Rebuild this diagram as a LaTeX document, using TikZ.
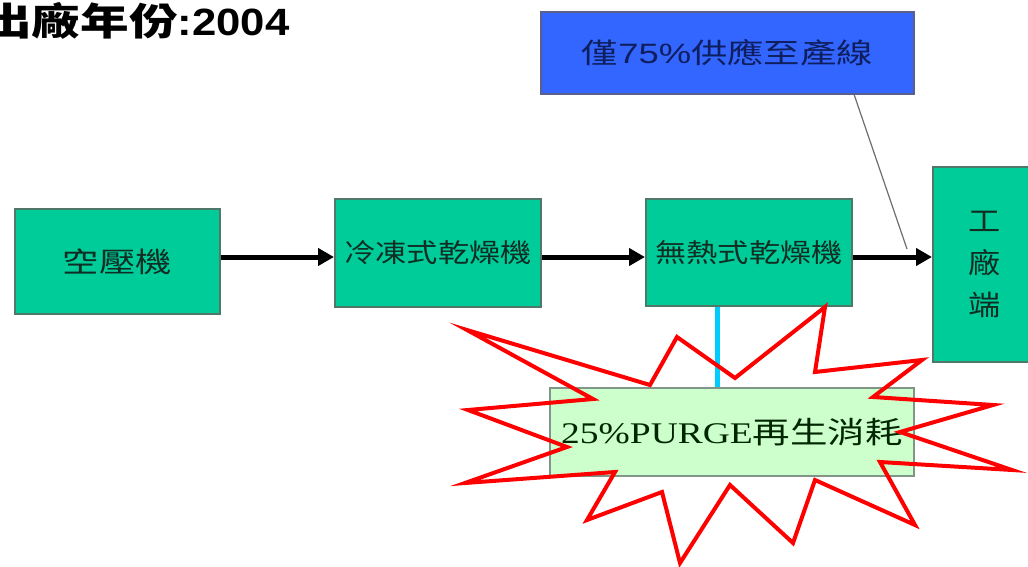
\documentclass[tikz,border=0pt]{standalone}
\usepackage{fontspec}
\setmainfont{Liberation Serif}
\newfontfamily\cjk{Noto Sans CJK TC}
\newfontfamily\lsans{Liberation Sans}
\usetikzlibrary{arrows.meta,calc}

\definecolor{boxgreen}{RGB}{0,204,153}
\definecolor{boxedge}{RGB}{80,120,105}
\definecolor{bluefill}{RGB}{51,102,255}
\definecolor{blueedge}{RGB}{90,95,140}
\definecolor{purgefill}{RGB}{204,255,204}
\definecolor{purgeedge}{RGB}{130,150,135}
\definecolor{txtgreen}{RGB}{15,45,35}
\definecolor{txtblue}{RGB}{15,30,95}
\definecolor{cyanline}{RGB}{0,204,255}
\definecolor{starred}{RGB}{255,0,0}
\definecolor{thingray}{RGB}{110,110,110}

\begin{document}
\begin{tikzpicture}[x=1pt,y=-1pt,
  gbox/.style={draw=boxedge,line width=2pt,fill=boxgreen,inner sep=0pt,anchor=north west,text=txtgreen},
  bbox/.style={draw=blueedge,line width=2pt,fill=bluefill,inner sep=0pt,anchor=north west,text=txtblue},
  pbox/.style={draw=purgeedge,line width=2pt,fill=purgefill,inner sep=0pt,anchor=north west,text=black!85!green},
  flow/.style={line width=5pt,-{Triangle[length=16pt,width=17pt]}},
  pointer/.style={draw=thingray,line width=1.2pt},
  purgeline/.style={draw=cyanline,line width=5pt},
  starline/.style={draw=starred,line width=4pt,line join=miter,miter limit=10}]

\useasboundingbox (0,0) rectangle (1028,567);
\clip (0,0) rectangle (1028,567);
\fill[white] (0,0) rectangle (1028,567);

% title
\node[anchor=base west,inner sep=0pt,font=\fontsize{38}{40}\selectfont] (title) at (-17,36)
  {\scalebox{1.28}[1]{\cjk\bfseries 出廠年份}\scalebox{1.15}[1]{\lsans\bfseries :2004}};

% boxes
\node[gbox,minimum width=205pt,minimum height=105pt,font=\cjk\fontsize{28}{30}\selectfont] (a) at (14,208)
  {\raisebox{-4pt}{\scalebox{1.3}[1]{空壓機}}};
\node[gbox,minimum width=206pt,minimum height=108pt,font=\cjk\fontsize{26}{28}\selectfont] (b) at (334,198)
  {\raisebox{-2pt}{\scalebox{1.2}[1]{冷凍式乾燥機}}};
\node[gbox,minimum width=206pt,minimum height=107pt,font=\cjk\fontsize{26}{28}\selectfont] (c) at (645,198)
  {\raisebox{-2pt}{\scalebox{1.2}[1]{無熱式乾燥機}}};
\node[gbox,minimum width=104pt,minimum height=195pt,align=center,font=\cjk\fontsize{28}{42}\selectfont] (d) at (932,166)
  {\scalebox{1.15}[1]{工}\\\scalebox{1.15}[1]{廠}\\\scalebox{1.15}[1]{端}};
\node[bbox,minimum width=373pt,minimum height=82pt,font=\fontsize{28}{30}\selectfont] (e) at (540,11)
  {\scalebox{1.3}[1]{{\cjk 僅}{\lsans 75\%}{\cjk 供應至產線}}};
\node[pbox,minimum width=364pt,minimum height=88pt,font=\fontsize{30}{32}\selectfont] (f) at (549,387)
  {\scalebox{1.25}[1]{25\%PURGE{\cjk 再生消耗}}};

% connectors
\coordinate (ay) at (0,257);
\draw[flow] (a.east |- ay) -- (b.west |- ay);
\draw[flow] (b.east |- ay) -- (c.west |- ay);
\draw[flow] (c.east |- ay) -- (d.west |- ay);

\coordinate (gend) at (907,249);
\draw[pointer] ($(e.south west)!0.838!(e.south east)$) -- (gend);

\coordinate (cx) at (717,0);
\draw[purgeline] (c.south -| cx) -- (f.north -| cx);

% explosion outline
\draw[starline] (467,330) -- (650,385) -- (677,337) -- (735,378) -- (825,307) -- (815,372)
  -- (922,360) -- (873,397) -- (993,405) -- (900,432) -- (1012,470) -- (880,462)
  -- (915,525) -- (815,480) -- (793,543) -- (730,485) -- (680,563) -- (662,492)
  -- (587,520) -- (615,472) -- (465,483) -- (567,447) -- (468,410) -- (593,399) -- cycle;
\end{tikzpicture}
\end{document}
